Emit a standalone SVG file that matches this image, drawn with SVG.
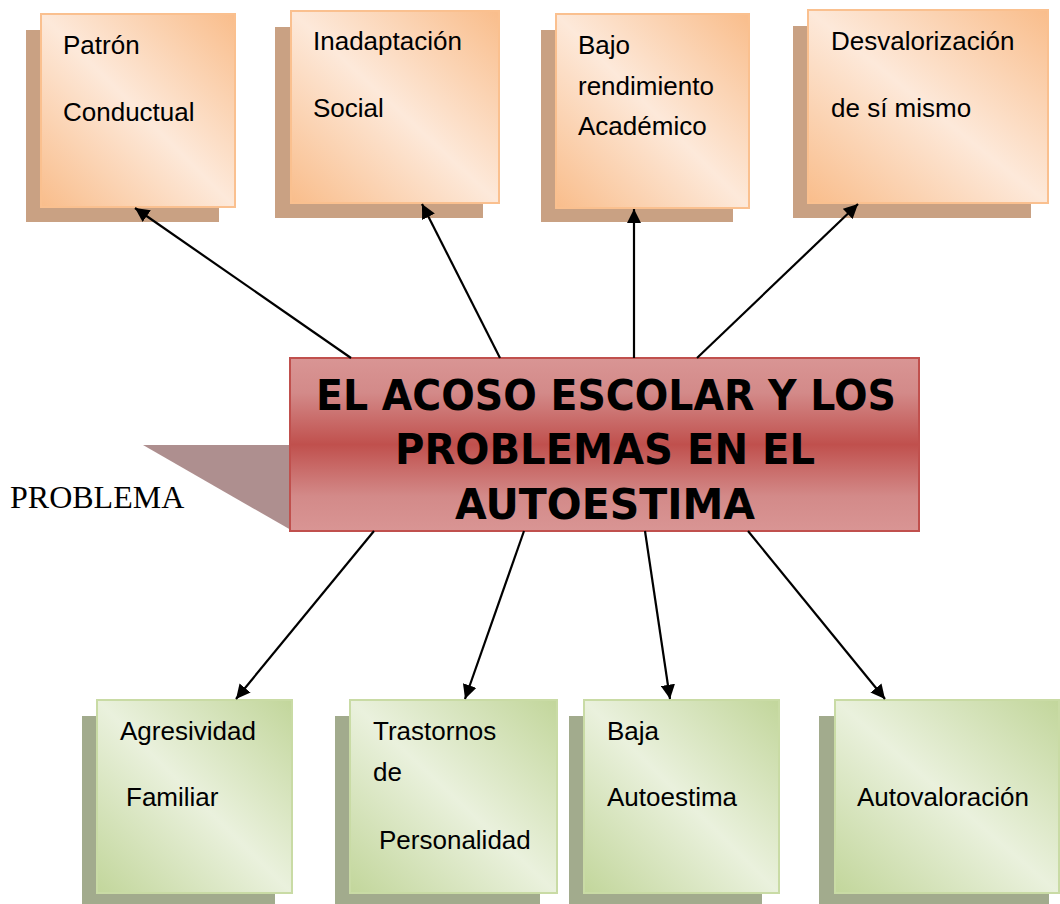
<svg xmlns="http://www.w3.org/2000/svg" width="1060" height="904" viewBox="0 0 1060 904">
<defs>
<linearGradient id="gOr" x1="1" y1="0" x2="0" y2="1">
<stop offset="0" stop-color="#f9bd8b"/>
<stop offset="0.5" stop-color="#fde9da"/>
<stop offset="1" stop-color="#f9bd8b"/>
</linearGradient>
<linearGradient id="gGr" x1="1" y1="0" x2="0" y2="1">
<stop offset="0" stop-color="#c2d69b"/>
<stop offset="0.5" stop-color="#eaf1dd"/>
<stop offset="1" stop-color="#c2d69b"/>
</linearGradient>
<linearGradient id="gRed" x1="0" y1="0" x2="0" y2="1">
<stop offset="0" stop-color="#d99594"/>
<stop offset="0.2" stop-color="#d38a89"/>
<stop offset="0.5" stop-color="#c0504d"/>
<stop offset="0.8" stop-color="#d38a89"/>
<stop offset="1" stop-color="#d99594"/>
</linearGradient>
<marker id="arr" viewBox="0 0 10 10" refX="10" refY="5" markerWidth="6.5" markerHeight="6.5" markerUnits="strokeWidth" orient="auto">
<path d="M0,0 L10,5 L0,10 z" fill="#000"/>
</marker>
<style>
.shT{fill:#c9a183}
.shB{fill:#a2ab8d}
.bxT{fill:url(#gOr);stroke:#fac08f;stroke-width:2}
.bxB{fill:url(#gGr);stroke:#c9dba5;stroke-width:2}
.t{font-family:"Liberation Sans",Arial,sans-serif;font-size:26px;fill:#000}
.c{font-family:"DejaVu Sans","Liberation Sans",sans-serif;font-weight:bold;font-size:42px;fill:#000}
.conn line{stroke:#000;stroke-width:2.2;marker-end:url(#arr)}
</style>
</defs>
<rect width="1060" height="904" fill="#fff"/>

<g id="n-patron">
<rect class="shT" x="26" y="30" width="193" height="192"/>
<rect class="bxT" x="41" y="14" width="194" height="193"/>
<text class="t" x="63" y="54">Patrón</text>
<text class="t" x="63" y="121">Conductual</text>
</g>
<g id="n-inadaptacion">
<rect class="shT" x="275" y="27" width="208" height="191"/>
<rect class="bxT" x="291" y="11" width="208" height="192"/>
<text class="t" x="313" y="50">Inadaptación</text>
<text class="t" x="313" y="117">Social</text>
</g>
<g id="n-bajo">
<rect class="shT" x="541" y="30" width="192" height="192"/>
<rect class="bxT" x="556" y="14" width="193" height="194"/>
<text class="t" x="578" y="54">Bajo</text>
<text class="t" x="578" y="95">rendimiento</text>
<text class="t" x="578" y="135">Académico</text>
</g>
<g id="n-desval">
<rect class="shT" x="793" y="26" width="238" height="192"/>
<rect class="bxT" x="808" y="10" width="240" height="193"/>
<text class="t" x="831" y="50">Desvalorización</text>
<text class="t" x="831" y="117">de sí mismo</text>
</g>

<g id="n-center">
<polygon points="143,445 291,445 291,530" fill="#ae8f8f"/>
<rect x="290" y="358" width="629" height="173" fill="url(#gRed)" stroke="#c0504d" stroke-width="2"/>
<text class="c" x="316" y="410" textLength="580" lengthAdjust="spacingAndGlyphs">EL ACOSO ESCOLAR Y LOS</text>
<text class="c" x="395" y="464" textLength="420" lengthAdjust="spacingAndGlyphs">PROBLEMAS EN EL</text>
<text class="c" x="455" y="519" textLength="300" lengthAdjust="spacingAndGlyphs">AUTOESTIMA</text>
</g>
<g id="n-problema">
<text x="10" y="508" font-family="Liberation Serif,'Times New Roman',serif" font-size="32" fill="#000">PROBLEMA</text>
</g>

<g id="n-agresividad">
<rect class="shB" x="82" y="716" width="193" height="192"/>
<rect class="bxB" x="97" y="700" width="195" height="193"/>
<text class="t" x="120" y="740">Agresividad</text>
<text class="t" x="126" y="806">Familiar</text>
</g>
<g id="n-trastornos">
<rect class="shB" x="335" y="716" width="205" height="192"/>
<rect class="bxB" x="350" y="700" width="207" height="193"/>
<text class="t" x="373" y="740">Trastornos</text>
<text class="t" x="373" y="781">de</text>
<text class="t" x="379" y="849">Personalidad</text>
</g>
<g id="n-baja">
<rect class="shB" x="569" y="716" width="193" height="192"/>
<rect class="bxB" x="584" y="700" width="195" height="193"/>
<text class="t" x="607" y="740">Baja</text>
<text class="t" x="607" y="806">Autoestima</text>
</g>
<g id="n-autoval">
<rect class="shB" x="819" y="716" width="230" height="192"/>
<rect class="bxB" x="835" y="700" width="224" height="193"/>
<text class="t" x="857" y="806">Autovaloración</text>
</g>

<g id="connectors" class="conn">
<line x1="351" y1="358" x2="135" y2="208"/>
<line x1="500" y1="358" x2="422" y2="204"/>
<line x1="634" y1="358" x2="634" y2="209"/>
<line x1="697" y1="358" x2="858" y2="204"/>
<line x1="374" y1="531" x2="236" y2="699"/>
<line x1="524" y1="531" x2="465" y2="699"/>
<line x1="645" y1="531" x2="670" y2="699"/>
<line x1="748" y1="531" x2="885" y2="699"/>
</g>
</svg>
